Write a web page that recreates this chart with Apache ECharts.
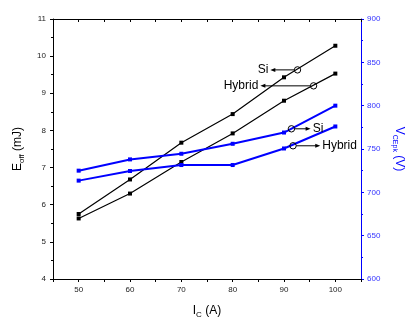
<!DOCTYPE html>
<html>
<head>
<meta charset="utf-8">
<script src="https://cdn.jsdelivr.net/npm/echarts@6/dist/echarts.min.js"></script>
<style>
html,body{margin:0;padding:0;background:#fff;}
#c{width:414px;height:324px;}
</style>
</head>
<body>
<div id="c"></div>
<script>
const categories = [50, 60, 70, 80, 90, 100];
const eoffSi = [5.75, 6.68, 7.67, 8.44, 9.43, 10.28];
const eoffHybrid = [5.63, 6.30, 7.15, 7.92, 8.80, 9.53];
const vceSi = [725, 738, 744.5, 756, 769, 800];
const vceHybrid = [713.5, 724.6, 731.5, 731.5, 750.6, 776];
const leftTicks = [4, 5, 6, 7, 8, 9, 10, 11];
const rightTicks = [600, 650, 700, 750, 800, 850, 900];
const xTickLabels = [50, 60, 70, 80, 90, 100];

// annotations: anchor on curve (data coords), axis index, label, direction
const annotations = [
  {x: 92.63, y: 9.63, axis: 0, text: 'Si', dir: -1, len: 24},
  {x: 95.76, y: 9.20, axis: 0, text: 'Hybrid', dir: -1, len: 50},
  {x: 91.45, y: 773.3, axis: 1, text: 'Si', dir: 1, len: 16},
  {x: 91.76, y: 753.7, axis: 1, text: 'Hybrid', dir: 1, len: 24}
];

const BLUE = '#0000ff';
const chart = echarts.init(document.getElementById('c'), null, {renderer: 'canvas'});

function pairs(xs, ys) { return xs.map((x, i) => [x, ys[i]]); }

const tickFont = {fontFamily: 'Arial, "Liberation Sans", sans-serif', fontSize: 8};

const option = {
  animation: false,
  backgroundColor: '#fff',
  grid: {left: 53, right: 53, top: 19, bottom: 44, containLabel: false},
  xAxis: [{
    type: 'value', min: 45, max: 105, interval: 5, position: 'bottom',
    name: '{n|I}{s|C}{n| (A)}', nameLocation: 'middle', nameGap: 23,
    nameTextStyle: {rich: {
      n: {fontFamily: 'Arial, "Liberation Sans", sans-serif', fontSize: 12, color: '#000'},
      s: {fontFamily: 'Arial, "Liberation Sans", sans-serif', fontSize: 8, color: '#000', padding: [9, 0, 0, 0]}
    }},
    axisLine: {show: true, onZero: false, lineStyle: {color: '#000', width: 1}},
    axisTick: {show: true, inside: false, length: 3, lineStyle: {color: '#000'}},
    axisLabel: Object.assign({color: '#222', margin: 7, formatter: v => xTickLabels.indexOf(v) >= 0 ? String(v) : ''}, tickFont),
    splitLine: {show: false}
  }, {
    type: 'value', min: 45, max: 105, interval: 5, position: 'top',
    axisLine: {show: true, onZero: false, lineStyle: {color: '#000', width: 1}},
    axisTick: {show: true, inside: true, length: 3, lineStyle: {color: '#000'}},
    axisLabel: {show: false}, splitLine: {show: false}
  }],
  yAxis: [{
    type: 'value', min: leftTicks[0], max: leftTicks[leftTicks.length - 1], interval: 1, position: 'left',
    name: '{n|E}{s|off}{n| (mJ)}', nameLocation: 'middle', nameGap: 24, nameRotate: 90,
    nameTextStyle: {rich: {
      n: {fontFamily: 'Arial, "Liberation Sans", sans-serif', fontSize: 12, color: '#000'},
      s: {fontFamily: 'Arial, "Liberation Sans", sans-serif', fontSize: 8, color: '#000', padding: [9, 0, 0, 0]}
    }},
    axisLine: {show: true, onZero: false, lineStyle: {color: '#000', width: 1}},
    axisTick: {show: true, inside: false, length: 3, lineStyle: {color: '#000'}},
    minorTick: {show: true, splitNumber: 2, length: 2, lineStyle: {color: '#000'}},
    axisLabel: Object.assign({color: '#222', margin: 7}, tickFont),
    splitLine: {show: false}
  }, {
    type: 'value', min: rightTicks[0], max: rightTicks[rightTicks.length - 1], interval: 50, position: 'right',
    name: '{n|V}{s|CEpk}{n| (V)}', nameLocation: 'middle', nameGap: 23, nameRotate: -90,
    nameTextStyle: {rich: {
      n: {fontFamily: 'Arial, "Liberation Sans", sans-serif', fontSize: 12, color: BLUE},
      s: {fontFamily: 'Arial, "Liberation Sans", sans-serif', fontSize: 7, color: BLUE, padding: [9, 0, 0, 0]}
    }},
    axisLine: {show: true, onZero: false, lineStyle: {color: BLUE, width: 1}},
    axisTick: {show: true, inside: false, length: 3, lineStyle: {color: BLUE}},
    minorTick: {show: true, splitNumber: 2, length: 2, lineStyle: {color: BLUE}},
    axisLabel: Object.assign({color: '#3333ff', margin: 6}, tickFont),
    splitLine: {show: false}
  }],
  series: [
    {name: 'Eoff Si', type: 'line', xAxisIndex: 0, yAxisIndex: 0, data: pairs(categories, eoffSi),
      symbol: 'rect', symbolSize: 4, itemStyle: {color: '#000'}, lineStyle: {color: '#000', width: 1.2}},
    {name: 'Eoff Hybrid', type: 'line', xAxisIndex: 0, yAxisIndex: 0, data: pairs(categories, eoffHybrid),
      symbol: 'rect', symbolSize: 4, itemStyle: {color: '#000'}, lineStyle: {color: '#000', width: 1.2}},
    {name: 'Vce Si', type: 'line', xAxisIndex: 0, yAxisIndex: 1, data: pairs(categories, vceSi),
      symbol: 'rect', symbolSize: 4, itemStyle: {color: BLUE}, lineStyle: {color: BLUE, width: 2}},
    {name: 'Vce Hybrid', type: 'line', xAxisIndex: 0, yAxisIndex: 1, data: pairs(categories, vceHybrid),
      symbol: 'rect', symbolSize: 4, itemStyle: {color: BLUE}, lineStyle: {color: BLUE, width: 2}}
  ]
};
chart.setOption(option);

const gfx = [];
annotations.forEach(a => {
  const p = chart.convertToPixel({xAxisIndex: 0, yAxisIndex: a.axis}, [a.x, a.y]);
  const cx = p[0], cy = p[1], r = 3.2;
  gfx.push({type: 'circle', shape: {cx: cx, cy: cy, r: r}, style: {fill: 'none', stroke: '#000', lineWidth: 1}, z: 100});
  const x0 = cx + a.dir * r, x1 = cx + a.dir * (r + a.len);
  gfx.push({type: 'line', shape: {x1: x0, y1: cy, x2: x1 - a.dir * 4, y2: cy}, style: {stroke: '#000', lineWidth: 1}, z: 100});
  gfx.push({type: 'polygon', shape: {points: [[x1, cy], [x1 - a.dir * 5, cy - 2], [x1 - a.dir * 5, cy + 2]]}, style: {fill: '#000'}, z: 100});
  gfx.push({type: 'text', x: x1 + a.dir * 2, y: cy, z: 100,
    style: {text: a.text, fill: '#000', font: '12px Arial, "Liberation Sans", sans-serif',
      align: a.dir < 0 ? 'right' : 'left', verticalAlign: 'middle'}});
});
chart.setOption({graphic: gfx});
</script>
</body>
</html>
